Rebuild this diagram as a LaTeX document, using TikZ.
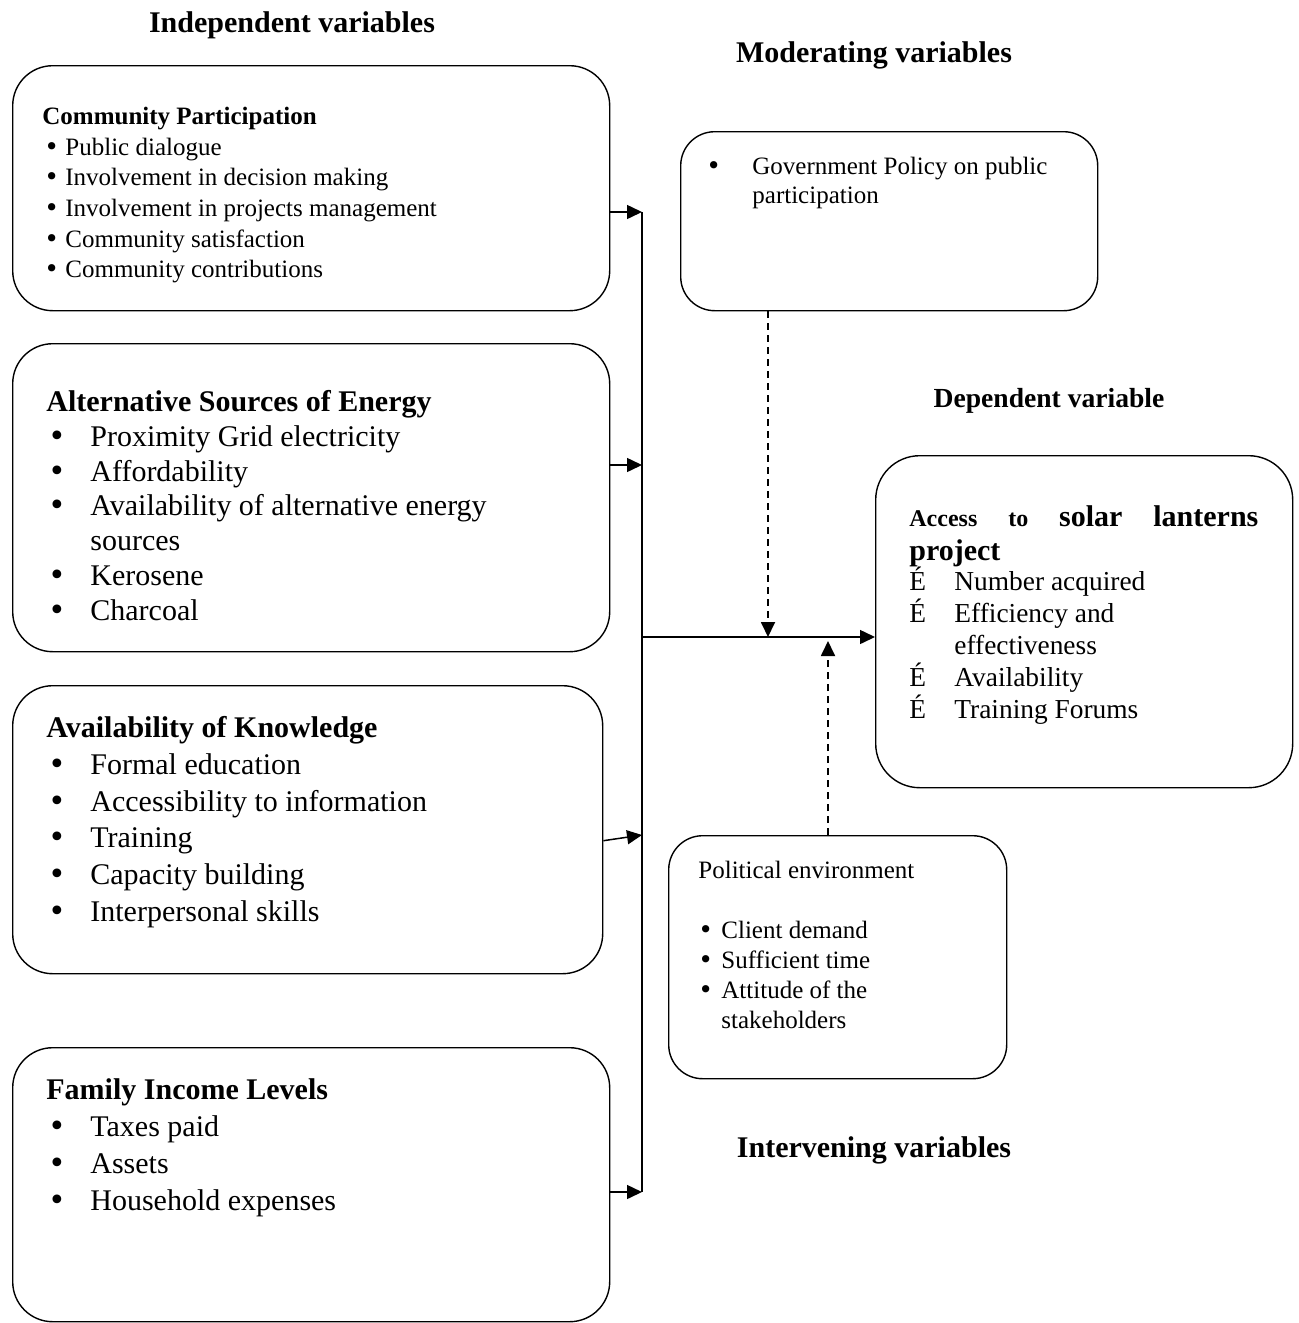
\documentclass[tikz,border=0pt]{standalone}
\usepackage{fontspec}
\setmainfont{Liberation Serif}
\newfontfamily\dotfont{DejaVu Sans}
\usetikzlibrary{arrows.meta,calc}
\newcommand{\itemdot}[2]{\makebox[#1][l]{\hspace*{#2}{\dotfont •}}}
\newcommand{\accitem}{\makebox[22.5pt][l]{É}}

\begin{document}
\begin{tikzpicture}[x=0.5pt,y=-0.5pt,
      varbox/.style={draw,line width=0.7pt,rounded corners=20pt,inner sep=0pt,anchor=north west},
      boxtext/.style={anchor=north west,inner sep=0pt,align=left},
      heading/.style={font=\bfseries\fontsize{15}{18}\selectfont,inner sep=0pt},
      arr/.style={-{Triangle[length=7.5pt,width=7pt]},line width=0.75pt},
      darr/.style={arr,line width=0.9pt,dash pattern=on 3.5pt off 2.5pt},
      trunk/.style={line width=0.75pt}
    ]
    \useasboundingbox (0,0) rectangle (1298,1323);
    \node[heading] (indep) at (292,25) {Independent variables};
    \node[heading] (moder) at (874,55) {Moderating variables};
    \node[heading,font=\bfseries\fontsize{13.8}{16}\selectfont] (depend) at (1049,401) {Dependent variable};
    \node[heading] (interv) at (874,1150) {Intervening variables};

    \node[varbox,minimum width=298.5pt,minimum height=122.5pt] (cp) at (12,65) {};
    \node[varbox,minimum width=298.5pt,minimum height=154pt] (ase) at (12,343) {};
    \node[varbox,minimum width=295pt,minimum height=144pt] (ak) at (12,685) {};
    \node[varbox,minimum width=298.5pt,minimum height=137pt] (fil) at (12,1047) {};
    \node[varbox,rounded corners=17pt,minimum width=208.5pt,minimum height=89.5pt] (gp) at (680,131) {};
    \node[varbox,rounded corners=22pt,minimum width=208.5pt,minimum height=166pt] (asl) at (875,455) {};
    \node[varbox,rounded corners=17pt,minimum width=169pt,minimum height=121.5pt] (pe) at (668,835) {};

    \node[boxtext,font=\fontsize{12.5}{15.3}\selectfont] (cptext) at (42,107) {\textbf{Community Participation}\\
      \itemdot{11.5pt}{1pt}Public dialogue\\
      \itemdot{11.5pt}{1pt}Involvement in decision making\\
      \itemdot{11.5pt}{1pt}Involvement in projects management\\
      \itemdot{11.5pt}{1pt}Community satisfaction\\
      \itemdot{11.5pt}{1pt}Community contributions};
    \node[boxtext,font=\fontsize{15}{17.4}\selectfont] (asetext) at (46,390) {\textbf{Alternative Sources of Energy}\\
      \itemdot{22pt}{1pt}Proximity Grid electricity\\
      \itemdot{22pt}{1pt}Affordability\\
      \itemdot{22pt}{1pt}Availability of alternative energy\\
      \hspace*{22pt}sources\\
      \itemdot{22pt}{1pt}Kerosene\\
      \itemdot{22pt}{1pt}Charcoal};
    \node[boxtext,font=\fontsize{15}{18.4}\selectfont] (aktext) at (46,716) {\textbf{Availability of Knowledge}\\
      \itemdot{22pt}{1pt}Formal education\\
      \itemdot{22pt}{1pt}Accessibility to information\\
      \itemdot{22pt}{1pt}Training\\
      \itemdot{22pt}{1pt}Capacity building\\
      \itemdot{22pt}{1pt}Interpersonal skills};
    \node[boxtext,font=\fontsize{15}{18.5}\selectfont] (filtext) at (46,1078) {\textbf{Family Income Levels}\\
      \itemdot{22pt}{1pt}Taxes paid\\
      \itemdot{22pt}{1pt}Assets\\
      \itemdot{22pt}{1pt}Household expenses};
    \node[boxtext,font=\fontsize{12.5}{14.5}\selectfont] (gptext) at (706,157) {\itemdot{23pt}{0pt}Government Policy on public\\
      \hspace*{23pt}participation};
    \node[boxtext,font=\fontsize{13.7}{16}\selectfont] (asltext) at (909,505) {\makebox[174.5pt][s]{\bfseries{\fontsize{12}{16}\selectfont Access\hfill to}\hfill{\fontsize{15}{16}\selectfont solar\hfill lanterns}}\\[1pt]
      {\bfseries\fontsize{15}{16}\selectfont project}\\[-1pt]
      \accitem Number acquired\\
      \accitem Efficiency and\\
      \hspace*{22.5pt}effectiveness\\
      \accitem Availability\\
      \accitem Training Forums};
    \node[boxtext,font=\fontsize{12.5}{15}\selectfont] (petext) at (698,861) {Political environment\\[15pt]
      \itemdot{11.5pt}{0pt}Client demand\\
      \itemdot{11.5pt}{0pt}Sufficient time\\
      \itemdot{11.5pt}{0pt}Attitude of the\\
      \hspace*{11.5pt}stakeholders};

    \coordinate (t1) at (642,212);
    \coordinate (t2) at (642,465);
    \coordinate (t3) at (642,835);
    \coordinate (t4) at (642,1192);
    \coordinate (tm) at (642,637);
    \coordinate (dm) at (768,637);
    \coordinate (di) at (828,641);
    \draw[trunk] (t1) -- (t4);
    \draw[arr] (cp.east |- t1) -- (t1);
    \draw[arr] (ase.east |- t2) -- (t2);
    \draw[arr] ([yshift=-5.5pt]ak.east) -- (t3);
    \draw[arr] (fil.east |- t4) -- (t4);
    \draw[arr] (tm) -- (asl.west |- tm);
    \draw[darr] (gp.south -| dm) -- (dm);
    \draw[darr] (pe.north -| di) -- (di);
  \end{tikzpicture}
\end{document}
